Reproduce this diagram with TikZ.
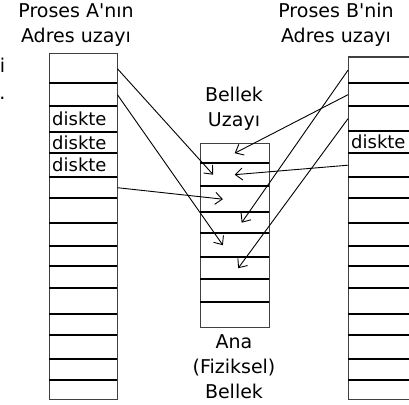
\documentclass[tikz,border=0pt]{standalone}
\usepackage{fontspec}
\setmainfont{DejaVu Sans}
\usetikzlibrary{calc, arrows.meta}

\begin{document}
\begin{tikzpicture}[x=1pt, y=-1pt,
every node/.style = {inner sep=0pt, font=\fontsize{19}{25}\selectfont},
cell/.style = {anchor=north west, minimum width=68pt, text width=62pt,
    inner xsep=3pt, align=left, font=\fontsize{18}{20}\selectfont},
frame/.style = {line width=1pt, black!75},
sep/.style = {line width=2pt},
ptr/.style = {line width=0.9pt, -{Straight Barb[length=7pt, width=12pt]}}]
\useasboundingbox (0,0) rectangle (409,404);

% cut off text at the left border
\node[anchor=base] (ci) at (2.5,72) {i};
\node[anchor=base] (cd) at (2.5,99) {.};

% titles
\node[align=center] (pa) at (76,25) {Proses A\textquotesingle nın\\Adres uzayı};
\node[align=center] (pb) at (336,25) {Proses B\textquotesingle nin\\Adres uzayı};
\node[align=center] (bu) at (234,109) {Bellek\\Uzayı};
\node[align=center] (ab) at (234,367) {Ana\\(Fiziksel)\\Bellek};

% address space of A
\foreach \top/\bot/\t [count=\i] in {54/83/{}, 83/106/{}, 106/132/diskte,
    132/153/diskte, 153/177/diskte, 177/198/{}, 198/223/{}, 223/246/{},
    246/266/{}, 266/288/{}, 288/314/{}, 314/335/{}, 335/359/{}, 359/380/{},
    380/399/{}}
{ \pgfmathsetmacro\h{\bot-\top}
  \node[cell, minimum height=\h pt] (a\i) at (49,\top) {\t}; }
\draw[frame] (a1.north west) rectangle (a15.south east);
\foreach \i in {1,...,14} \draw[sep] (a\i.south west) -- (a\i.south east);

% address space of B
\foreach \top/\bot/\t [count=\i] in {57/83/{}, 83/106/{}, 106/131/{},
    131/153/diskte, 153/177/{}, 177/198/{}, 198/223/{}, 223/246/{},
    246/266/{}, 266/288/{}, 288/314/{}, 314/335/{}, 335/359/{}, 359/380/{},
    380/399/{}}
{ \pgfmathsetmacro\h{\bot-\top}
  \node[cell, minimum height=\h pt] (b\i) at (348,\top) {\t}; }
\draw[frame] (b1.north west) rectangle (b15.south east);
\foreach \i in {1,...,14} \draw[sep] (b\i.south west) -- (b\i.south east);

% main memory
\foreach \top/\bot [count=\i] in {143/163, 163/186, 186/212, 212/233,
    233/257, 257/279, 279/302, 302/327}
{ \pgfmathsetmacro\h{\bot-\top}
  \node[cell, minimum width=69pt, text width=63pt, minimum height=\h pt] (m\i) at (200,\top) {}; }
\draw[frame] (m1.north west) rectangle (m8.south east);
\foreach \i in {1,...,7} \draw[sep] (m\i.south west) -- (m\i.south east);

% mappings
\draw[ptr] (a1.east) -- ($(m2.west)!0.19!(m2.east)$);
\draw[ptr] (a2.east) -- ($(m5.west)!0.33!(m5.east)$);
\draw[ptr] (a6.east) -- ($(m3.west)!0.33!(m3.east)$);
\draw[ptr] (b1.west) -- ($(m4.west)!0.6!(m4.east)$);
\draw[ptr] (b2.west) -- ($(m1.west)!0.5!(m1.east)$);
\draw[ptr] (b3.west) -- ($(m6.west)!0.55!(m6.east)$);
\draw[ptr] (b5.west) -- ($(m2.west)!0.5!(m2.east)$);
\end{tikzpicture}
\end{document}
